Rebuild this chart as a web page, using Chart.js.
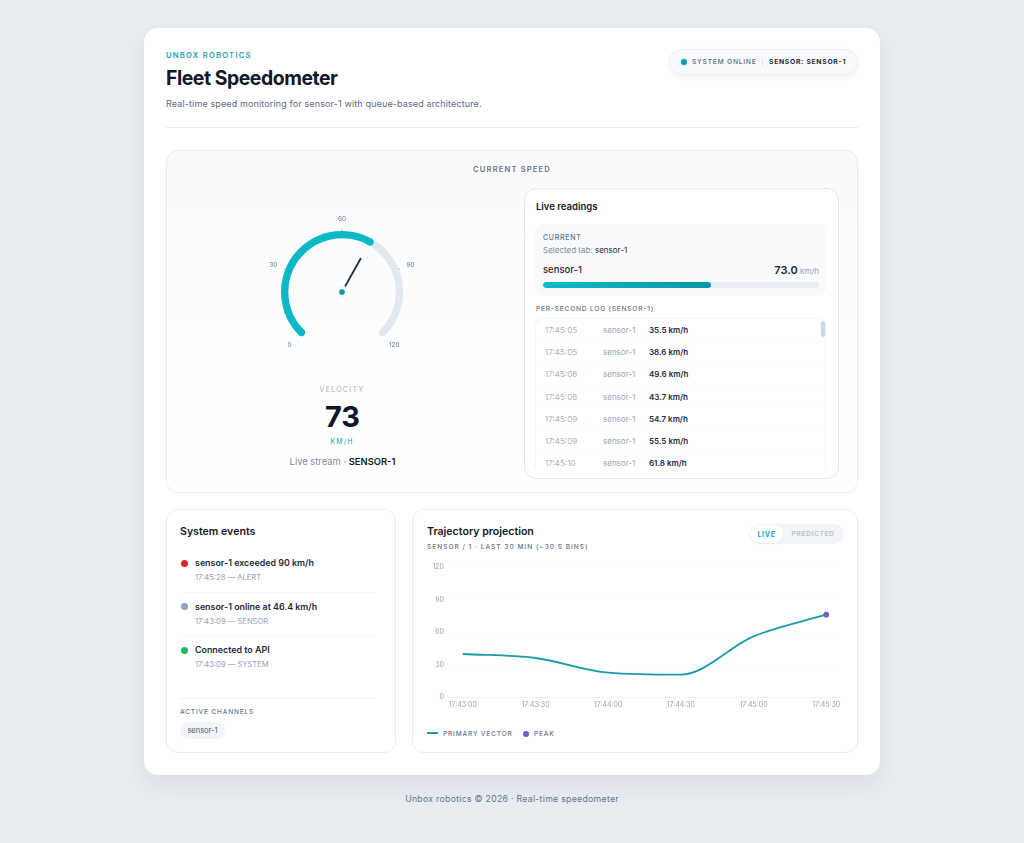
<!DOCTYPE html>
<html>
<head>
<meta charset="utf-8">
<title>Fleet Speedometer</title>
<script src="https://cdn.jsdelivr.net/npm/chart.js@4"></script>
<style>
* { box-sizing: border-box; margin: 0; padding: 0; }
html, body { width: 1024px; height: 843px; overflow: hidden; }
body { background: #e8edf2; font-family: Inter, "Noto Sans", sans-serif; color: #0f172a; position: relative; }
.box { position: absolute; }
.t { position: absolute; white-space: nowrap; line-height: 1; transform: translateY(-50%); }
.c { transform: translate(-50%, -50%); }
.card { left: 144px; top: 28px; width: 736px; height: 747px; background: #fff; border-radius: 14px; box-shadow: 0 10px 26px rgba(15, 23, 42, .07); }
.panel { background: #fff; border: 1px solid #e9eef3; border-radius: 12px; }
.cap { font-size: 6.6px; font-weight: 500; letter-spacing: .8px; color: #64748b; }
.title { font-size: 10.6px; font-weight: 600; color: #111827; }
#logBox { left: 535px; top: 318px; width: 291px; height: 150px; overflow: hidden; border: 1px solid #f3f5f8; border-bottom: 0; border-radius: 8px 8px 0 0; }
.row { position: absolute; left: 0; right: 8px; height: 22px; border-bottom: 1px solid #fafbfc; font-size: 8px; }
.row span { position: absolute; top: 7px; line-height: 1; white-space: nowrap; }
canvas { position: absolute; }
</style>
</head>
<body>
<div class="box card"></div>

<!-- header -->
<div class="t" style="left:166px;top:55.5px;font-size:7.6px;font-weight:600;letter-spacing:1.25px;color:#1aa5b2">UNBOX ROBOTICS</div>
<div class="t" style="left:166px;top:78.5px;font-size:19.4px;font-weight:700;letter-spacing:-.45px;color:#0f172a">Fleet Speedometer</div>
<div class="t" style="left:166px;top:103px;font-size:9px;letter-spacing:.13px;color:#5b6b80">Real-time speed monitoring for sensor-1 with queue-based architecture.</div>
<div class="box" style="left:166px;top:127px;width:692px;height:1px;background:#e6ebf0"></div>

<div class="box" style="left:669px;top:49px;width:189px;height:26px;border-radius:13px;background:#f8fafc;border:1px solid #eef2f6;box-shadow:0 2px 5px rgba(15,23,42,.05)"></div>
<div class="box" style="left:681px;top:59px;width:6px;height:6px;border-radius:50%;background:#0e9aa7;box-shadow:0 0 0 1.5px #d8f1f4"></div>
<div class="t" style="left:692px;top:62px;font-size:6.8px;font-weight:500;letter-spacing:.7px;color:#5b6b80">SYSTEM ONLINE</div>
<div class="box" style="left:762px;top:58px;width:1px;height:8px;background:#dfe5ec"></div>
<div class="t" style="left:769px;top:62px;font-size:6.8px;font-weight:700;letter-spacing:.7px;color:#1e293b">SENSOR: SENSOR-1</div>

<!-- current speed panel -->
<div class="box panel" style="left:166px;top:150px;width:692px;height:343px;background:linear-gradient(#f8fafc,#fdfeff 65%,#fff)"></div>
<div class="t c" style="left:512px;top:170px;font-size:7.6px;font-weight:600;letter-spacing:1.15px;color:#64748b">CURRENT SPEED</div>

<canvas id="gaugeChart" style="left:262px;top:203px;width:160px;height:160px"></canvas>
<div class="t c" style="left:342px;top:388.5px;font-size:7px;letter-spacing:1.3px;color:#a3aebd">VELOCITY</div>
<div class="t c" id="velocity" style="left:342.5px;top:416px;font-size:29px;font-weight:700;color:#0f172a"></div>
<div class="t c" style="left:342px;top:441px;font-size:7px;letter-spacing:1px;color:#1aa5b2">KM/H</div>
<div class="t c" style="left:342.5px;top:461.5px;font-size:9.4px;color:#7b899c">Live stream · <b style="font-weight:600;color:#111827">SENSOR-1</b></div>

<!-- live readings -->
<div class="box panel" style="left:524px;top:188px;width:315px;height:291px;border-color:#e2e8f0"></div>
<div class="t title" style="left:536px;top:206.5px;font-size:9.5px">Live readings</div>
<div class="box" style="left:534px;top:224px;width:293px;height:72px;background:#f8fafc;border-radius:10px"></div>
<div class="t" style="left:543px;top:237px;font-size:7px;font-weight:500;letter-spacing:.72px;color:#64748b">CURRENT</div>
<div class="t" style="left:543px;top:250px;font-size:8px;color:#7b899c">Selected tab: <span style="color:#1e293b">sensor-1</span></div>
<div class="t" style="left:543px;top:270px;font-size:9.5px;font-weight:500;color:#1e293b">sensor-1</div>
<div class="t" style="right:205px;top:270px;font-size:8px;color:#94a3b8"><b id="currentValue" style="font-size:11px;font-weight:600;color:#1e293b"></b> km/h</div>
<div class="box" style="left:543px;top:282px;width:276px;height:6px;border-radius:3px;background:#e8edf3;overflow:hidden"><div id="currentBar" style="height:6px;border-radius:3px;background:linear-gradient(90deg,#0cbcc9,#0a96a6)"></div></div>
<div class="t cap" style="left:536px;top:309px">PER-SECOND LOG (SENSOR-1)</div>
<div class="box" id="logBox"></div>
<div class="box" style="left:821px;top:321px;width:4px;height:16px;border-radius:2px;background:#cbd5e1"></div>

<!-- system events -->
<div class="box panel" style="left:166px;top:509px;width:230px;height:244px"></div>
<div class="t title" style="left:180px;top:532px">System events</div>
<div id="events"></div>
<div class="box" style="left:180px;top:698px;width:196px;height:1px;background:#f0f3f7"></div>
<div class="t cap" style="left:180px;top:712px">ACTIVE CHANNELS</div>
<div class="box" style="left:180px;top:722px;width:45px;height:17px;border-radius:9px;background:#f1f5f9"></div>
<div class="t c" style="left:202.5px;top:730.5px;font-size:7.5px;color:#475569">sensor-1</div>

<!-- trajectory -->
<div class="box panel" style="left:412px;top:509px;width:446px;height:244px"></div>
<div class="t title" style="left:427px;top:532px">Trajectory projection</div>
<div class="t" style="left:427px;top:547px;font-size:6.6px;font-weight:500;letter-spacing:.98px;color:#64748b">SENSOR / 1 · LAST 30 MIN (~30 S BINS)</div>
<div class="box" style="left:749px;top:524px;width:95px;height:20px;border-radius:10px;background:#f1f5f9"></div>
<div class="box" style="left:750px;top:525px;width:33px;height:18px;border-radius:9px;background:#fff;box-shadow:0 1px 2px rgba(15,23,42,.06)"></div>
<div class="t c" style="left:766.5px;top:534px;font-size:7px;font-weight:700;letter-spacing:.7px;color:#1aa5b2">LIVE</div>
<div class="t c" style="left:813px;top:534px;font-size:6.6px;font-weight:600;letter-spacing:.65px;color:#b4bfce">PREDICTED</div>
<canvas id="trendChart" style="left:420px;top:555px;width:430px;height:160px"></canvas>
<div class="box" style="left:427px;top:732px;width:11px;height:2px;background:#1b9aaa"></div>
<div class="t cap" style="left:443px;top:733.5px">PRIMARY VECTOR</div>
<div class="box" style="left:522.5px;top:730.5px;width:6px;height:6px;border-radius:50%;background:#7c4fd6"></div>
<div class="t cap" style="left:534px;top:733.5px">PEAK</div>

<div class="t c" style="left:512px;top:799px;font-size:8.75px;letter-spacing:.27px;color:#64748b">Unbox robotics © 2026 · Real-time speedometer</div>

<script>
// Gauge
const currentSpeed = 73;
const gaugeMax = 120;
const gaugeTicks = [0, 30, 60, 90, 120];

// Per-second log
const logTimes = ['17:45:05', '17:45:05', '17:45:06', '17:45:08', '17:45:09', '17:45:09', '17:45:10'];
const logSpeeds = [35.5, 38.6, 49.6, 43.7, 54.7, 55.5, 61.8];

// System events
const eventTitles = ['sensor-1 exceeded 90 km/h', 'sensor-1 online at 46.4 km/h', 'Connected to API'];
const eventMeta = ['17:45:28 — ALERT', '17:43:09 — SENSOR', '17:43:09 — SYSTEM'];
const eventColors = ['#dc2626', '#94a3b8', '#22b85c'];

// Trajectory chart
const trendLabels = ['17:43:00', '17:43:30', '17:44:00', '17:44:30', '17:45:00', '17:45:30'];
const trendSpeeds = [39.7, 36, 22.5, 20.6, 56, 76];
const trendTicks = [0, 30, 60, 90, 120];

document.getElementById('velocity').textContent = currentSpeed;
document.getElementById('currentValue').textContent = currentSpeed.toFixed(1);
document.getElementById('currentBar').style.width = (currentSpeed / gaugeMax * 100) + '%';

// Log rows
const logBox = document.getElementById('logBox');
logTimes.forEach((time, i) => {
    const row = document.createElement('div');
    row.className = 'row';
    row.style.top = (i * 22.2) + 'px';
    row.innerHTML = `<span style="left:9px;color:#a9b4c2">${time}</span>` +
        `<span style="left:67px;color:#94a3b8">sensor-1</span>` +
        `<span style="left:113px;font-weight:600;color:#1e293b">${logSpeeds[i]} km/h</span>`;
    logBox.appendChild(row);
});

// Event list
const events = document.getElementById('events');
eventTitles.forEach((title, i) => {
    const top = 563 + i * 43.6;
    let html = `<div class="box" style="left:180.5px;top:${top - 3.5}px;width:7px;height:7px;border-radius:50%;background:${eventColors[i]}"></div>` +
        `<div class="t" style="left:195px;top:${top}px;font-size:8.9px;font-weight:600;color:#1e293b">${title}</div>` +
        `<div class="t" style="left:195px;top:${top + 15}px;font-size:7.6px;color:#94a3b8">${eventMeta[i]}</div>`;
    if (i < 2) html += `<div class="box" style="left:180px;top:${top + 29}px;width:196px;height:1px;background:#f5f7f9"></div>`;
    events.insertAdjacentHTML('beforeend', html);
});

// Angles from the top of the dial for the gauge labels
const gaugeLabelAngles = [-135, -68, 0, 68, 135];
const gaugeFillColor = '#0ab8c6';

const gaugeDial = {
    id: 'gaugeDial',
    beforeDatasetsDraw(chart) {
        const arc = chart.getDatasetMeta(0).data[0];
        const ctx = chart.ctx;
        const mid = (arc.outerRadius + arc.innerRadius) / 2;
        ctx.save();
        ctx.lineCap = 'round';
        ctx.strokeStyle = '#e2e8f0';
        ctx.lineWidth = arc.outerRadius - arc.innerRadius;
        ctx.beginPath();
        ctx.arc(arc.x, arc.y, mid, Math.PI * 0.75, Math.PI * 2.25);
        ctx.stroke();
        ctx.restore();
    },
    afterDatasetsDraw(chart) {
        const arc = chart.getDatasetMeta(0).data[0];
        const ctx = chart.ctx;
        const toXY = (deg, r) => {
            const a = (deg - 90) * Math.PI / 180;
            return [arc.x + Math.cos(a) * r, arc.y + Math.sin(a) * r];
        };
        ctx.save();
        // round caps on the filled arc
        const mid = (arc.outerRadius + arc.innerRadius) / 2;
        ctx.fillStyle = gaugeFillColor;
        [arc.startAngle, arc.endAngle].forEach(angle => {
            ctx.beginPath();
            ctx.arc(arc.x + Math.cos(angle) * mid, arc.y + Math.sin(angle) * mid, (arc.outerRadius - arc.innerRadius) / 2, 0, Math.PI * 2);
            ctx.fill();
        });
        // tick marks and labels
        ctx.font = '6.5px Inter';
        ctx.textAlign = 'center';
        ctx.textBaseline = 'middle';
        gaugeTicks.forEach((tick, i) => {
            const deg = gaugeLabelAngles[i];
            if (Math.abs(deg) < 100) {
                const [x1, y1] = toXY(deg, arc.outerRadius - 0.5);
                const [x2, y2] = toXY(deg, arc.outerRadius + 1.5);
                ctx.strokeStyle = '#94a3b8';
                ctx.lineWidth = 0.7;
                ctx.beginPath();
                ctx.moveTo(x1, y1);
                ctx.lineTo(x2, y2);
                ctx.stroke();
            }
            const [lx, ly] = toXY(deg, 74);
            ctx.fillStyle = '#64748b';
            ctx.fillText(tick, lx, ly + 1);
        });
        // needle
        const needleDeg = -135 + currentSpeed / gaugeMax * 270;
        const [nx1, ny1] = toXY(needleDeg, 7);
        const [nx2, ny2] = toXY(needleDeg, 38);
        ctx.strokeStyle = '#1e293b';
        ctx.lineWidth = 1.8;
        ctx.lineCap = 'round';
        ctx.beginPath();
        ctx.moveTo(nx1, ny1);
        ctx.lineTo(nx2, ny2);
        ctx.stroke();
        // hub
        ctx.fillStyle = '#f1f5f9';
        ctx.beginPath();
        ctx.arc(arc.x, arc.y, 5.5, 0, Math.PI * 2);
        ctx.fill();
        ctx.fillStyle = '#0e9aa7';
        ctx.beginPath();
        ctx.arc(arc.x, arc.y, 2.8, 0, Math.PI * 2);
        ctx.fill();
        ctx.restore();
    }
};

new Chart(document.getElementById('gaugeChart'), {
    type: 'doughnut',
    data: {
        datasets: [{
            data: [currentSpeed, gaugeMax - currentSpeed],
            backgroundColor: [gaugeFillColor, 'rgba(0,0,0,0)'],
            borderWidth: 0
        }]
    },
    options: {
        responsive: false,
        animation: false,
        rotation: -135,
        circumference: 270,
        radius: 61,
        cutout: '88%',
        plugins: { legend: { display: false }, tooltip: { enabled: false } }
    },
    plugins: [gaugeDial]
});

// Trajectory line, peak marked on its own dataset
const peakSpeed = Math.max(...trendSpeeds);
new Chart(document.getElementById('trendChart'), {
    type: 'line',
    data: {
        datasets: [{
            label: 'Primary vector',
            data: trendSpeeds.map((y, x) => ({ x, y })),
            borderColor: '#1b9aaa',
            borderWidth: 1.8,
            cubicInterpolationMode: 'monotone',
            pointRadius: 0
        }, {
            label: 'Peak',
            data: trendSpeeds.map((y, x) => ({ x, y })).filter(p => p.y === peakSpeed),
            showLine: false,
            pointRadius: 2.8,
            pointBackgroundColor: '#7c4fd6',
            pointBorderWidth: 0
        }]
    },
    options: {
        responsive: false,
        animation: false,
        layout: { padding: { top: 12, right: 10 } },
        plugins: { legend: { display: false }, tooltip: { enabled: false } },
        scales: {
            x: {
                type: 'linear',
                min: -0.19,
                max: 5.19,
                afterBuildTicks: scale => { scale.ticks = trendLabels.map((_, value) => ({ value })); },
                afterFit: scale => { scale.height = 18; },
                ticks: {
                    autoSkip: false,
                    maxRotation: 0,
                    padding: 4,
                    color: '#94a3b8',
                    font: { family: 'Inter', size: 7 },
                    callback: value => trendLabels[value]
                },
                grid: { display: false, drawTicks: false },
                border: { color: '#eef2f6' }
            },
            y: {
                min: 0,
                max: 120,
                afterBuildTicks: scale => { scale.ticks = trendTicks.map(value => ({ value })); },
                afterFit: scale => { scale.width = 29; },
                ticks: {
                    padding: 5,
                    color: '#94a3b8',
                    font: { family: 'Inter', size: 7 }
                },
                grid: { color: '#eaeef3', tickLength: 0, lineWidth: 0.8 },
                border: { display: false, dash: [1, 5] }
            }
        }
    }
});
</script>
</body>
</html>
